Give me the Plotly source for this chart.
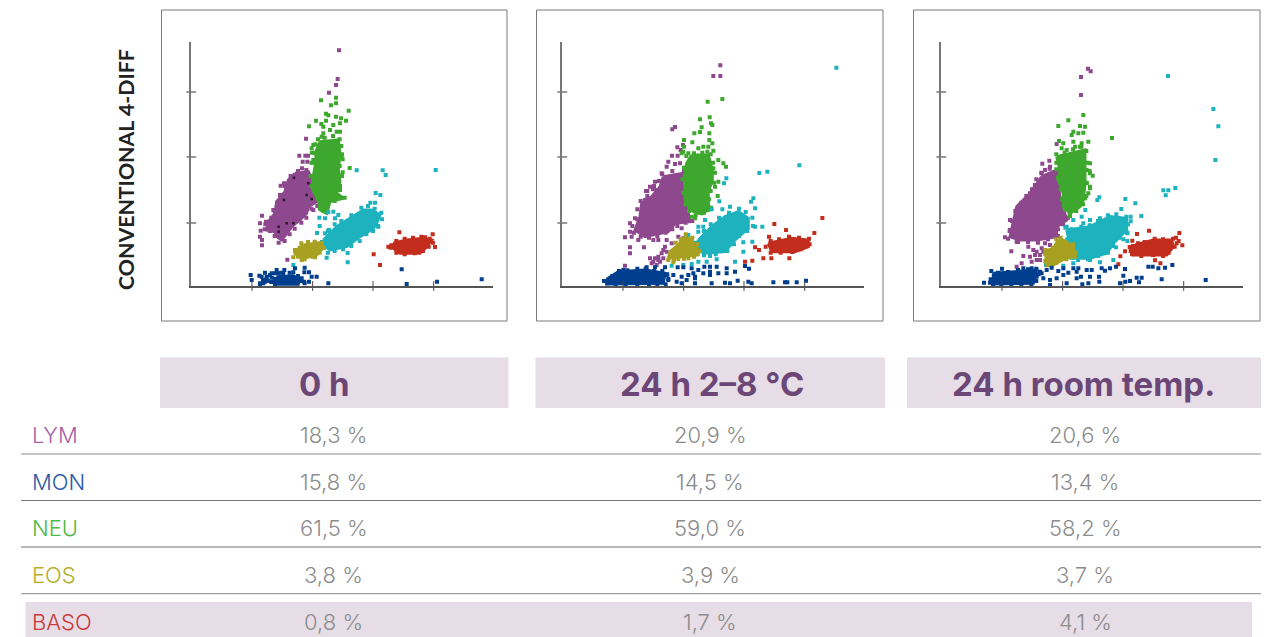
import plotly.graph_objects as go

W, H = 1271, 637

# ---------- table ----------
conditions = ["0 h", "24 h 2–8 °C", "24 h room temp."]
row_names = ["LYM", "MON", "NEU", "EOS", "BASO"]
vals_0h = ["18,3 %", "15,8 %", "61,5 %", "3,8 %", "0,8 %"]
vals_cold = ["20,9 %", "14,5 %", "59,0 %", "3,9 %", "1,7 %"]
vals_room = ["20,6 %", "13,4 %", "58,2 %", "3,7 %", "4,1 %"]
y_title = "CONVENTIONAL 4-DIFF"
x_ticks = [182, 364, 545, 727]
y_ticks = [189, 387, 582]

# ---------- panel 1 : 0 h ----------  (dense region outline, single events, events on the cloud edge)
lym_core_a = [(311,338),(351,343),(364,318),(376,268),(376,253),(351,238),(346,218),(326,198),(301,178),(291,163),(271,138),(256,148),(251,163),(226,168),(231,193),(251,218),(256,253),(281,283),(291,318)]
lym_pts_a = [(443,707),(439,621),(434,603),(413,580),(344,442),(324,391),(342,391),(350,391),(334,373),(348,373),(332,353),(278,308),(268,301),(266,273),(212,211),(206,188),(224,193),(208,166),(206,148),(212,138),(212,122),(288,79),(246,228),(366,228)]
lym_edge_a = [(280,300),(298,330),(320,345),(345,348),(370,290),(382,262),(378,240),(360,232),(345,205),(330,190),(310,172),(295,155),(280,135),(262,130),(250,150),(236,165),(220,170),(222,185),(240,205),(250,225),(258,250),(270,270),(285,295)]
dark_pts_a = [(308,325),(351,308),(346,273),(361,261),(278,258),(262,178),(262,163),(286,188),(306,188)]
neu_core_a = [(386,433),(441,438),(446,398),(441,348),(446,313),(436,278),(456,263),(416,253),(406,218),(386,228),(381,258),(364,288),(364,318),(371,358),(376,408)]
neu_pts_a = [(472,526),(434,565),(434,548),(419,542),(389,557),(404,517),(411,512),(434,508),(449,503),(464,496),(374,496),(404,496),(390,486),(353,479),(396,478),(426,483),(446,488),(416,468),(436,463),(446,463),(396,458),(391,448),(366,423),(361,413),(371,398),(454,380),(366,378),(475,354),(454,341),(451,388),(446,288)]
neu_edge_a = [(380,440),(400,445),(425,450),(445,440),(450,420),(452,395),(445,360),(452,330),(446,300),(440,290),(460,265),(430,255),(410,240),(400,225),(385,235),(378,262),(360,300),(358,330),(365,370),(370,400),(372,425),(362,400),(360,370)]
teal_core_a = [(396,138),(436,178),(476,203),(516,228),(541,228),(566,213),(556,188),(546,173),(506,148),(466,118),(416,108),(396,123)]
teal_pts_a = [(496,347),(574,347),(583,333),(733,348),(553,279),(567,273),(537,250),(551,250),(411,221),(426,223),(441,213),(431,203),(401,203),(384,205),(385,180),(377,159),(401,158),(413,168),(469,99),(469,71),(406,85),(306,63),(561,178)]
teal_edge_a = [(392,132),(410,165),(430,185),(450,195),(480,212),(510,235),(530,240),(550,232),(570,220),(572,200),(560,180),(545,165),(525,155),(505,135),(480,120),(455,110),(430,105),(410,100),(395,115)]
eos_core_a = [(336,123),(391,131),(394,113),(376,93),(336,83),(316,93),(321,110)]
eos_pts_a = [(311,108),(306,86),(331,78),(371,86)]
eos_edge_a = [(330,128),(350,132),(370,133),(392,128),(398,115),(385,100),(365,88),(340,80),(320,88),(312,100),(325,115)]
baso_core_a = [(606,128),(646,138),(696,143),(721,138),(706,118),(686,98),(626,98),(606,113)]
baso_pts_a = [(624,161),(724,155),(701,146),(731,117),(591,118),(547,95),(566,63),(616,131)]
baso_edge_a = [(600,122),(615,135),(640,142),(665,145),(690,148),(715,142),(725,130),(712,118),(695,105),(670,98),(640,95),(615,100),(598,115)]
mon_core_a = [(256,28),(306,31),(324,20),(321,5),(261,5)]
mon_pts_a = [(178,33),(181,18),(204,31),(221,40),(241,38),(256,48),(279,48),(311,53),(340,55),(353,41),(361,28),(376,28),(339,41),(306,41),(206,8),(221,13),(251,6),(411,8),(631,50),(646,6),(737,13),(871,20),(353,13),(211,28),(226,28),(241,25),(236,33),(251,38),(261,38),(276,38),(331,23),(338,13),(216,8),(206,6),(226,20),(251,13)]
mon_edge_a = [(230,15),(240,12),(270,40),(295,40),(320,30),(330,15),(340,8),(250,22),(215,18)]

# ---------- panel 2 : 24 h 2-8 C ----------
lym_core_b = [(303,328),(363,338),(368,268),(383,193),(338,188),(318,163),(248,148),(218,168),(233,208),(238,248),(268,268),(293,298)]
lym_pts_b = [(474,662),(453,630),(474,630),(338,477),(330,470),(345,416),(362,423),(329,391),(346,391),(355,408),(318,373),(338,366),(353,368),(313,358),(298,338),(278,313),(263,298),(251,285),(283,288),(248,258),(218,203),(203,188),(203,163),(188,146),(208,148),(228,138),(203,116),(203,98),(245,116),(273,138),(288,138),(313,138),(358,173),(188,61),(348,148),(363,143),(308,118),(298,98),(288,88),(278,83),(303,83),(268,68),(293,73),(263,83),(283,63),(328,128),(313,103),(303,108),(288,78),(273,73)]
lym_edge_b = [(290,315),(275,300),(255,285),(300,335),(330,345),(365,345),(372,300),(378,240),(390,195),(370,190),(345,180),(330,170),(310,160),(285,150),(260,145),(235,148),(215,160),(210,180),(225,200),(225,230),(235,255),(255,270),(272,290)]
neu_core_b = [(388,393),(438,393),(450,348),(450,318),(438,283),(438,248),(443,228),(408,218),(383,228),(368,258),(366,328),(373,368)]
neu_pts_b = [(436,553),(480,561),(413,500),(442,506),(446,488),(450,483),(418,476),(396,458),(413,462),(441,458),(441,438),(450,428),(365,438),(365,418),(390,431),(408,413),(423,418),(438,418),(435,403),(453,406),(363,403),(378,398),(358,398),(468,378),(483,368),(491,358),(453,353),(468,313),(458,298),(466,270),(398,203),(418,218),(388,208)]
neu_edge_b = [(372,390),(395,398),(420,400),(445,395),(452,370),(458,340),(455,310),(445,285),(440,260),(446,235),(425,220),(400,212),(380,225),(370,245),(362,280),(360,320),(365,355)]
teal_core_b = [(408,138),(448,178),(488,208),(528,223),(558,203),(558,173),(518,138),(488,103),(428,98),(398,108)]
teal_pts_b = [(822,655),(711,362),(591,339),(615,343),(492,323),(485,308),(471,254),(573,263),(566,253),(578,233),(448,230),(480,230),(503,238),(428,198),(408,178),(423,178),(408,163),(378,153),(578,178),(600,178),(570,133),(543,103),(543,131),(518,73),(463,80),(433,73),(408,73),(388,66),(363,63),(328,61),(443,90)]
teal_edge_b = [(400,130),(425,165),(445,185),(470,205),(500,220),(530,232),(550,222),(570,205),(572,180),(555,165),(530,150),(515,125),(495,105),(460,95),(425,92),(395,100)]
eos_core_b = [(348,123),(368,148),(388,138),(408,108),(408,93),(358,88),(318,83),(323,103)]
eos_pts_b = [(333,71),(348,81),(378,83)]
eos_edge_b = [(340,130),(355,140),(370,155),(390,145),(405,125),(412,105),(395,88),(365,82),(335,78),(318,78)]
baso_core_b = [(618,128),(688,143),(738,138),(738,118),(698,103),(628,103)]
baso_pts_b = [(780,204),(756,159),(671,168),(636,186),(620,148),(578,116),(590,108),(603,83),(627,83),(681,83),(548,73),(570,76)]
baso_edge_b = [(610,118),(625,135),(650,140),(680,148),(710,145),(740,142),(742,125),(715,110),(690,102),(655,100),(625,100)]
mon_core_b = [(133,20),(168,43),(248,48),(308,38),(303,8),(133,6)]
mon_pts_b = [(183,48),(253,56),(278,56),(308,56),(346,56),(363,56),(388,53),(408,48),(426,58),(443,58),(463,58),(493,53),(548,60),(560,52),(313,33),(333,33),(358,28),(378,33),(398,28),(423,38),(443,33),(468,38),(493,38),(518,43),(373,18),(398,8),(343,13),(358,8),(448,8),(488,10),(503,8),(526,16),(558,13),(568,8),(633,11),(668,11),(675,11),(703,11),(731,16),(318,18),(393,38),(398,23),(443,43)]
mon_edge_b = [(125,15),(135,8),(150,30),(170,45),(195,47),(225,52),(250,52),(275,45),(300,45),(315,35),(318,22),(310,5),(285,5),(260,5),(225,5),(190,5),(160,5)]

# ---------- panel 3 : 24 h room temp ----------
lym_core_c = [(301,328),(346,348),(356,268),(376,198),(346,178),(346,148),(286,138),(236,138),(206,148),(216,198),(226,238),(266,278)]
lym_pts_c = [(440,652),(448,644),(419,627),(419,573),(346,426),(303,367),(324,376),(326,358),(311,348),(301,338),(281,303),(266,278),(251,238),(231,228),(206,198),(206,168),(191,146),(226,133),(210,104),(276,108),(266,88),(246,90),(241,68),(226,58),(286,78),(301,113),(326,123),(261,118),(296,93),(271,73),(311,128),(296,78),(281,93),(306,103),(286,103)]
lym_edge_c = [(285,320),(300,340),(325,352),(350,345),(355,300),(362,260),(380,205),(365,185),(350,170),(350,150),(320,140),(290,130),(260,132),(230,132),(200,142),(205,165),(212,195),(222,225),(240,250),(255,270),(272,290)]
neu_core_c = [(346,388),(431,408),(431,308),(426,258),(416,238),(386,218),(366,238),(366,278),(351,318),(356,348)]
neu_pts_c = [(426,513),(381,497),(351,480),(416,480),(431,478),(512,444),(396,463),(411,458),(426,460),(391,453),(353,435),(396,433),(421,428),(441,433),(366,428),(401,418),(361,413),(376,408),(416,418),(446,368),(446,338),(454,331),(436,348),(446,298),(441,278),(431,263),(446,293),(416,248),(386,210),(436,308)]
neu_edge_c = [(345,395),(370,400),(395,410),(420,418),(435,405),(438,370),(445,345),(436,310),(435,270),(425,245),(405,225),(385,215),(370,230),(362,260),(358,290),(350,325),(345,350),(345,370)]
teal_core_c = [(376,168),(446,178),(506,208),(556,203),(556,168),(516,128),(496,98),(446,83),(396,83),(386,128)]
teal_pts_c = [(680,630),(816,531),(831,479),(822,378),(702,294),(681,287),(666,287),(673,272),(552,261),(582,248),(540,231),(600,210),(568,208),(568,194),(474,266),(468,258),(432,228),(421,208),(396,198),(376,178),(426,188),(446,198),(476,203),(558,158),(558,135),(524,116),(546,140),(516,78),(476,71),(446,78),(396,68),(366,61),(314,63)]
teal_edge_c = [(372,175),(390,170),(420,178),(445,182),(470,195),(500,212),(525,215),(555,208),(560,185),(558,160),(535,145),(515,120),(500,100),(470,90),(440,80),(410,78),(390,85),(382,110),(378,140)]
eos_core_c = [(351,138),(366,138),(396,118),(401,88),(371,83),(336,63),(314,68),(314,106),(336,113)]
eos_pts_c = []
eos_edge_c = [(345,140),(358,145),(375,130),(395,125),(403,100),(400,88),(375,80),(345,70),(320,62),(312,75),(312,95),(312,108),(335,115)]
baso_core_c = [(581,123),(636,138),(691,138),(696,118),(676,93),(576,93),(571,108)]
baso_pts_c = [(623,166),(587,156),(714,159),(704,145),(723,122),(706,128),(573,136),(565,117),(551,104),(537,89),(641,77),(657,68),(531,65)]
baso_edge_c = [(575,120),(590,128),(610,132),(640,142),(665,140),(695,142),(712,135),(700,118),(682,100),(665,90),(635,93),(600,90),(572,95),(568,105)]
mon_core_c = [(156,38),(226,43),(286,48),(276,8),(156,6)]
mon_pts_c = [(182,52),(128,10),(146,10),(246,53),(271,53),(296,43),(331,55),(351,45),(366,53),(381,40),(396,53),(411,53),(436,48),(451,48),(481,53),(491,46),(506,53),(524,58),(551,51),(621,58),(634,58),(651,53),(671,55),(693,63),(306,23),(326,18),(346,23),(366,33),(406,43),(406,23),(419,28),(446,28),(473,28),(474,13),(546,31),(552,13),(566,15),(586,25),(601,25),(593,11),(536,8),(441,8),(423,5),(326,3),(376,8),(661,20),(793,18),(286,28),(301,38),(316,48),(256,18),(271,28)]
mon_edge_c = [(150,45),(170,40),(200,42),(230,48),(260,50),(285,52),(292,35),(285,15),(270,5),(240,5),(210,5),(180,5),(155,5),(148,20)]

# ---------- styling ----------
C_LYM, C_NEU, C_TEAL, C_EOS, C_BASO, C_MON = "#8e488e", "#3ea82e", "#1db2bd", "#a8a020", "#c22d1e", "#003e8e"
LABEL_COL = ["#a45ea6", "#2a5aa8", "#4fb848", "#b5ad2c", "#c93a3a"]
BAND = "#e6dde7"
HEAD = "#6b4676"
GREY = "#8c8c8c"
LIGHT = "Inter"


def px(x):
    return x / W


def py(y):
    return 1 - y / H


panels = [
    dict(frame=(161.5, 507), ax=(191.3, 492.7),
         series=[(lym_core_a, lym_pts_a + lym_edge_a, C_LYM), (neu_core_a, neu_pts_a + neu_edge_a, C_NEU),
                 (teal_core_a, teal_pts_a + teal_edge_a, C_TEAL), (eos_core_a, eos_pts_a + eos_edge_a, C_EOS),
                 (baso_core_a, baso_pts_a + baso_edge_a, C_BASO), (mon_core_a, mon_pts_a + mon_edge_a, C_MON)]),
    dict(frame=(536.5, 883), ax=(562.3, 863.7),
         series=[(lym_core_b, lym_pts_b + lym_edge_b, C_LYM), (neu_core_b, neu_pts_b + neu_edge_b, C_NEU),
                 (teal_core_b, teal_pts_b + teal_edge_b, C_TEAL), (eos_core_b, eos_pts_b + eos_edge_b, C_EOS),
                 (baso_core_b, baso_pts_b + baso_edge_b, C_BASO), (mon_core_b, mon_pts_b + mon_edge_b, C_MON)]),
    dict(frame=(913.5, 1260), ax=(941.3, 1242.7),
         series=[(lym_core_c, lym_pts_c + lym_edge_c, C_LYM), (neu_core_c, neu_pts_c + neu_edge_c, C_NEU),
                 (teal_core_c, teal_pts_c + teal_edge_c, C_TEAL), (eos_core_c, eos_pts_c + eos_edge_c, C_EOS),
                 (baso_core_c, baso_pts_c + baso_edge_c, C_BASO), (mon_core_c, mon_pts_c + mon_edge_c, C_MON)]),
]

fig = go.Figure()
layout = dict(width=W, height=H, margin=dict(l=0, r=0, t=0, b=0), paper_bgcolor="white", plot_bgcolor="white",
              showlegend=False, hovermode=False)
shapes, annotations = [], []

for i, p in enumerate(panels):
    sfx = "" if i == 0 else str(i + 1)
    xa, ya = "x" + sfx, "y" + sfx
    for core, pts, col in p["series"]:
        fig.add_trace(go.Scatter(x=[q[0] for q in core] + [core[0][0]], y=[q[1] for q in core] + [core[0][1]],
                                 mode="lines", fill="toself", fillcolor=col, line=dict(color=col, width=3),
                                 xaxis=xa, yaxis=ya))
        if pts:
            fig.add_trace(go.Scatter(x=[q[0] for q in pts], y=[q[1] for q in pts], mode="markers",
                                     marker=dict(symbol="square", size=4, color=col, line=dict(width=0)),
                                     xaxis=xa, yaxis=ya))
    if i == 0:
        fig.add_trace(go.Scatter(x=[q[0] for q in dark_pts_a], y=[q[1] for q in dark_pts_a], mode="markers",
                                 marker=dict(symbol="square", size=2.5, color="#2a1a2a", line=dict(width=0)),
                                 xaxis=xa, yaxis=ya))
    # tick marks straddle the axis lines
    fig.add_trace(go.Scatter(x=x_ticks, y=[0] * len(x_ticks), mode="markers", cliponaxis=False,
                             marker=dict(symbol="line-ns", size=7, line=dict(color="#444", width=1)),
                             xaxis=xa, yaxis=ya))
    fig.add_trace(go.Scatter(x=[0] * len(y_ticks), y=y_ticks, mode="markers", cliponaxis=False,
                             marker=dict(symbol="line-ew", size=7, line=dict(color="#333", width=1)),
                             xaxis=xa, yaxis=ya))
    layout["xaxis" + sfx] = dict(domain=[px(p["ax"][0]), px(p["ax"][1])], range=[0, 904], anchor=ya,
                                 showticklabels=False, ticks="", showgrid=False, zeroline=False,
                                 showline=True, linecolor="#555", linewidth=1.5)
    layout["yaxis" + sfx] = dict(domain=[py(286), py(42.3)], range=[0, 731], anchor=xa,
                                 showticklabels=False, ticks="", showgrid=False, zeroline=False,
                                 showline=True, linecolor="#777", linewidth=2)
    shapes.append(dict(type="rect", xref="paper", yref="paper", x0=px(p["frame"][0]), x1=px(p["frame"][1]),
                       y0=py(321), y1=py(10), line=dict(color="#7a7a7a", width=1), fillcolor="rgba(0,0,0,0)", layer="below"))

# title on the left
annotations.append(dict(text=y_title, x=px(126), y=py(170), xref="paper", yref="paper", showarrow=False, textangle=-90,
                        font=dict(family="Lato", size=21.3, color="#222", weight="bold"), xanchor="center", yanchor="middle"))

# headers
head_spans = [(160, 508.5), (535.5, 885), (907, 1261)]
head_centers = [324, 712, 1083]
for (a, b), c, name in zip(head_spans, head_centers, conditions):
    shapes.append(dict(type="rect", xref="paper", yref="paper", x0=px(a), x1=px(b), y0=py(408), y1=py(357.5),
                       fillcolor=BAND, line=dict(width=0), layer="below"))
    annotations.append(dict(text=name, x=px(c), y=py(384), xref="paper", yref="paper", showarrow=False,
                            font=dict(family="Inter", size=33, color=HEAD, weight="bold"),
                            xanchor="center", yanchor="middle"))

# table body
shapes.append(dict(type="rect", xref="paper", yref="paper", x0=px(25.5), x1=px(1252), y0=py(637), y1=py(602),
                   fillcolor=BAND, line=dict(width=0), layer="below"))
for y, col, w in zip([454, 500.5, 547, 593.7], ["#b0b0b0", "#777777", "#a0a0a0", "#888888"], [1.6, 1, 1.6, 1]):
    shapes.append(dict(type="line", xref="paper", yref="paper", x0=px(21), x1=px(1261), y0=py(y), y1=py(y),
                       line=dict(color=col, width=w)))
row_y = [435, 481.5, 528, 575, 621.5]
for k, (name, ry, col) in enumerate(zip(row_names, row_y, LABEL_COL)):
    annotations.append(dict(text=name, x=px(30), y=py(ry), xref="paper", yref="paper", showarrow=False,
                            font=dict(family=LIGHT, size=22, color=col, weight=300),
                            xanchor="left", yanchor="middle"))
    for cx, vals in zip([334, 710, 1085], [vals_0h, vals_cold, vals_room]):
        annotations.append(dict(text=vals[k], x=px(cx), y=py(ry), xref="paper", yref="paper", showarrow=False,
                                font=dict(family=LIGHT, size=22, color=GREY, weight=300),
                                xanchor="center", yanchor="middle"))

fig.update_layout(shapes=shapes, annotations=annotations, **layout)
fig.write_html("out.html", config={"displayModeBar": False},
               post_script="document.body.style.margin='0';document.body.style.overflow='hidden';")
